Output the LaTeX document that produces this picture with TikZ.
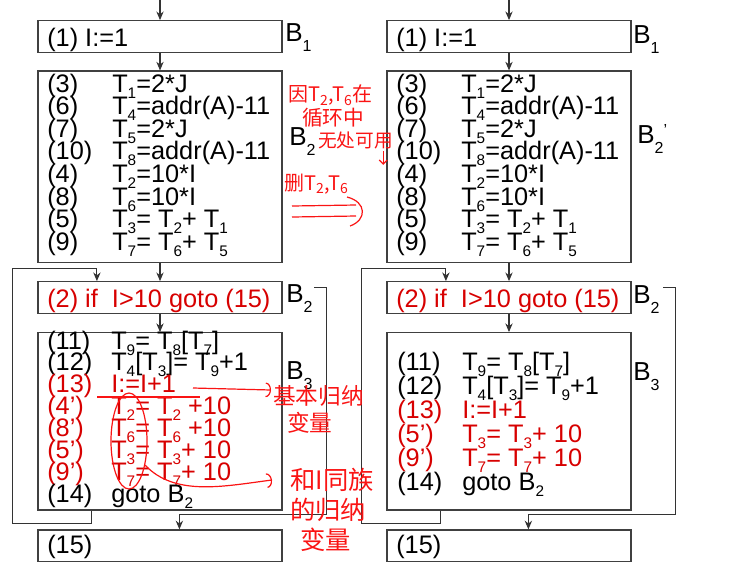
\documentclass[tikz,border=0pt]{standalone}
\usepackage{fontspec}
\usepackage{xcolor}
\usepackage{tikz}
\usetikzlibrary{arrows.meta,calc}
\setmainfont{Liberation Sans}
\newfontfamily\cjk{Noto Sans CJK SC}
\definecolor{txtred}{RGB}{215,0,0}
\definecolor{penred}{RGB}{250,20,20}
\newcommand\sub[1]{\raisebox{-4.5pt}{\fontsize{11.5}{12}\selectfont #1}}
\newcommand\bsub[1]{\raisebox{-7.5pt}{\fontsize{12}{12}\selectfont #1}}

\begin{document}
\begin{tikzpicture}[x=0.75pt, y=-0.75pt,
    every node/.style={inner sep=0pt, font=\fontsize{19}{22}\selectfont},
    box/.style={draw=black!75, line width=0.9pt, minimum width=183pt},
    ln/.style={anchor=base west},
    lab/.style={anchor=base west, font=\fontsize{19.5}{22}\selectfont},
    arr/.style={draw=black!80, line width=0.8pt, -{Stealth[length=6.5pt,width=5.5pt]}},
    pen/.style={penred, line width=0.9pt},
    note/.style={penred, anchor=west}]
    \useasboundingbox (0,0) rectangle (753,569);

    \foreach \s/\o in {L/0, R/349} {
        \node[box, minimum height=23.7pt] (b1\s) at (160+\o, 36.5) {};
        \node[box, minimum height=143.8pt] (b2\s) at (160+\o, 166.9) {};
        \node[box, minimum height=23.7pt] (c\s) at (160+\o, 297.5) {};
        \node[box, minimum height=133pt] (b3\s) at (160+\o, 421.3) {};
        \node[box, minimum height=23.8pt] (e\s) at (160+\o, 545.8) {};

        \node[ln] (t1\s) at (47+\o, 46) {(1) I:=1};
        \node[ln, txtred] (tc\s) at (47+\o, 307) {(2) if\ \ I>10 goto (15)};
        \node[ln] (te\s) at (47+\o, 553) {(15)};

        \foreach \n/\e [count=\i] in {(3)/{T\sub{1}=2*J}, (6)/{T\sub{4}=addr(A)-11},
                (7)/{T\sub{5}=2*J}, (10)/{T\sub{8}=addr(A)-11}, (4)/{T\sub{2}=10*I},
                (8)/{T\sub{6}=10*I}, (5)/{T\sub{3}= T\sub{2}+ T\sub{1}}, (9)/{T\sub{7}= T\sub{6}+ T\sub{5}}}
        {
            \node[ln] (n\s\i) at (47+\o, 92+22.6*\i-22.6) {\n};
            \node[ln] (x\s\i) at (112+\o, 92+22.6*\i-22.6) {\e};
        }

        \coordinate (in\s) at (160+\o, 0);
        \draw[arr] (in\s) -- (b1\s);
        \draw[arr] (b1\s) -- (b2\s);
        \draw[arr] (b2\s) -- (c\s);
        \draw[arr] (c\s) -- (b3\s);
        % back edge B3 -> B2
        \draw[arr] ($(b3\s.south west)+(54.5,0)$) -- ++(0,13) -| ($(c\s.north west)+(-25,-13)$)
            -| ($(c\s.north west)+(59.5,0)$);
        % exit B2 -> (15)
        \draw[arr] ($(c\s.north east)+(31.5,6)$) -- ++(12,0) |- ($(e\s.north west)+(142,-15)$)
            -- ($(e\s.north west)+(142,0)$);
    }

    % B3, left
    \foreach \c/\n/\e [count=\i] in {black/(11)/{T\sub{9}= T\sub{8}[T\sub{7}]},
            black/(12)/{T\sub{4}[T\sub{3}]= T\sub{9}+1}, txtred/(13)/{I:=I+1},
            txtred/(4’)/{T\sub{2}= T\sub{2} +10}, txtred/(8’)/{T\sub{6}= T\sub{6} +10},
            txtred/(5’)/{T\sub{3}= T\sub{3}+ 10}, txtred/(9’)/{T\sub{7}= T\sub{7}+ 10},
            black/(14)/{goto B\sub{2}}}
    {
        \node[ln, text=\c] (mL\i) at (47, 349+21.9*\i-21.9) {\n};
        \node[ln, text=\c] (yL\i) at (111, 349+21.9*\i-21.9) {\e};
    }
    % B3, right
    \foreach \c/\n/\e [count=\i] in {black/(11)/{T\sub{9}= T\sub{8}[T\sub{7}]},
            black/(12)/{T\sub{4}[T\sub{3}]= T\sub{9}+1}, txtred/(13)/{I:=I+1},
            txtred/(5’)/{T\sub{3}= T\sub{3}+ 10}, txtred/(9’)/{T\sub{7}= T\sub{7}+ 10},
            black/(14)/{goto B\sub{2}}}
    {
        \node[ln, text=\c] (mR\i) at (397, 370+24*\i-24) {\n};
        \node[ln, text=\c] (yR\i) at (462, 370+24*\i-24) {\e};
    }

    \node[lab] (lb1L) at (285,41) {B\bsub{1}};
    \node[lab] (lb1R) at (633,43) {B\bsub{1}};
    \node[lab] (lb2L) at (289,145) {B\bsub{2}};
    \node[lab] (lb2R) at (637,143) {B\bsub{2}{\fontsize{12}{12}\selectfont\raisebox{6pt}{’}}};
    \node[lab] (lcL) at (286,302) {B\bsub{2}};
    \node[lab] (lcR) at (633,303) {B\bsub{2}};
    \node[lab] (lb3L) at (286,379) {B\bsub{3}};
    \node[lab] (lb3R) at (633,380) {B\bsub{3}};

    % handwritten notes
    \node[note, font=\cjk\fontsize{15}{16}\selectfont] (nt1) at (288,95) {因T\textsubscript{2},T\textsubscript{6}在};
    \node[note, font=\cjk\fontsize{15.5}{16}\selectfont] (nt2) at (302,118) {循环中};
    \node[note, font=\cjk\fontsize{14}{15}\selectfont] (nt3) at (318,140) {无处可用};
    \node[note, font=\cjk\fontsize{15}{16}\selectfont] (nt4) at (284,184) {删T\textsubscript{2},T\textsubscript{6}};
    \draw[pen, -{Straight Barb[length=3pt]}] ($(nt3.south east)+(-10,2)$) -- ++(0,14);
    \draw[pen] (292,206) -- (356,205) (292,217) -- (356,216);
    \draw[pen] (347,197) .. controls (367,202) and (367,220) .. (350,226);

    \node[note, font=\cjk\fontsize{17}{18}\selectfont] (nb1) at (273,396) {基本归纳};
    \node[note, font=\cjk\fontsize{17}{18}\selectfont] (nb2) at (287,423) {变量};
    \node[note, font=\cjk\fontsize{19}{20}\selectfont] (nf1) at (290,480) {和I同族};
    \node[note, font=\cjk\fontsize{19}{20}\selectfont] (nf2) at (290,510) {的归纳};
    \node[note, font=\cjk\fontsize{19}{20}\selectfont] (nf3) at (300,540) {变量};

    \draw[pen] (97,397) -- (200,397);
    \draw[pen, -{Arc Barb[length=4pt,width=11pt]}] (193,388) -- ($(nb1.west)+(-2,-6)$);
    \draw[pen] (129,441) ellipse [x radius=18, y radius=48];
    \draw[pen, -{Arc Barb[length=4pt,width=11pt]}] (145,465) .. controls (175,497) and (225,486)
        .. ($(nf1.west)+(-18,0)$);
\end{tikzpicture}
\end{document}
